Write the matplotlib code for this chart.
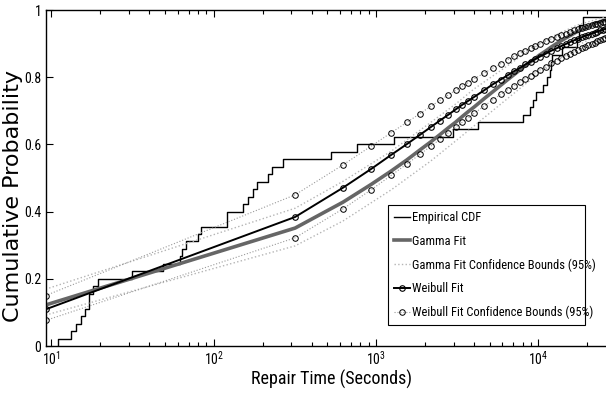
import numpy as np
import matplotlib
matplotlib.use('Agg')
import matplotlib.pyplot as plt
from matplotlib.ticker import FixedLocator, LogLocator, NullFormatter

################## data ##################
# repair times (seconds) at the steps of the empirical CDF
repair_times = [11.0, 13.2, 14.2, 15.2, 16.1, 17.1, 17.1, 18.1, 19.3, 31.3,
                48.5, 62.0, 63.5, 67.5, 80.0, 83.2, 121.3, 121.3, 150.9, 163.4,
                174.7, 184.1, 216.9, 227.8, 268.4, 525.9, 760.3, 1291, 2970, 4269,
                8083, 8890, 9276, 9679, 10690, 11320, 11810, 11980, 12150, 13990,
                17320, 17690, 17690, 18860, 35000]

# points where the fitted cdfs were evaluated
fit_x = [9.2, 317, 625, 933, 1241, 1549, 1857, 2165, 2473, 2781, 3089, 3397, 3705, 4013,
         4629, 5245, 5861, 6477, 7093, 7709, 8325, 8941, 9557, 10173,
         11097, 12021, 12945, 13869, 14793, 15717, 16641, 17565, 18489, 19413, 20337,
         21261, 22185, 23109, 24033, 24957, 25881, 26805, 27729, 28653, 29577, 30501]

gamma_fit = [0.122, 0.351, 0.428, 0.481, 0.521, 0.554, 0.583, 0.607, 0.629, 0.649, 0.666,
             0.683, 0.698, 0.711, 0.736, 0.757, 0.776, 0.793, 0.808, 0.822, 0.835, 0.846,
             0.856, 0.866, 0.878, 0.890, 0.900, 0.909, 0.917, 0.924, 0.931, 0.937, 0.942,
             0.947, 0.951, 0.955, 0.959, 0.962, 0.965, 0.968, 0.970, 0.973, 0.975, 0.977,
             0.979, 0.981]

weibull_fit = [0.109, 0.384, 0.471, 0.527, 0.569, 0.601, 0.628, 0.651, 0.671, 0.688, 0.704,
               0.718, 0.730, 0.741, 0.761, 0.779, 0.793, 0.806, 0.818, 0.828, 0.838, 0.846,
               0.854, 0.861, 0.870, 0.879, 0.886, 0.893, 0.899, 0.905, 0.910, 0.915, 0.919,
               0.923, 0.926, 0.930, 0.933, 0.936, 0.939, 0.941, 0.944, 0.946, 0.948, 0.950,
               0.952, 0.954]
weibull_upper = [0.150, 0.450, 0.539, 0.595, 0.635, 0.666, 0.691, 0.713, 0.731, 0.747, 0.761,
                 0.773, 0.784, 0.795, 0.812, 0.827, 0.840, 0.852, 0.862, 0.871, 0.879, 0.886,
                 0.893, 0.899, 0.907, 0.914, 0.920, 0.926, 0.930, 0.935, 0.939, 0.943, 0.946,
                 0.949, 0.952, 0.954, 0.957, 0.959, 0.961, 0.963, 0.965, 0.966, 0.968, 0.969,
                 0.971, 0.972]
weibull_lower = [0.076, 0.322, 0.408, 0.465, 0.508, 0.542, 0.570, 0.594, 0.615, 0.634, 0.651,
                 0.666, 0.679, 0.692, 0.714, 0.733, 0.749, 0.763, 0.775, 0.786, 0.796, 0.805,
                 0.813, 0.821, 0.831, 0.841, 0.849, 0.857, 0.864, 0.870, 0.876, 0.881, 0.886,
                 0.891, 0.895, 0.899, 0.903, 0.907, 0.910, 0.913, 0.916, 0.919, 0.922, 0.924,
                 0.927, 0.929]

# gamma confidence bounds (dotted, no markers)
gbound_x = [9.2, 317, 625, 1241, 2165, 3089, 4013, 5861, 8325, 12021, 17565, 24033, 30501]
gamma_upper = [0.169, 0.410, 0.490, 0.580, 0.665, 0.720, 0.765, 0.820, 0.872, 0.920, 0.956,
               0.975, 0.987]
gamma_lower = [0.092, 0.298, 0.372, 0.465, 0.550, 0.610, 0.655, 0.720, 0.780, 0.838, 0.895,
               0.930, 0.955]

xticks = [10, 100, 1000, 10000]
xticklabels = ['$10^{1}$', '$10^{2}$', '$10^{3}$', '$10^{4}$']
yticks = [0, 0.2, 0.4, 0.6, 0.8, 1]
yticklabels = ['0', '0.2', '0.4', '0.6', '0.8', '1']

################## plot ##################
narrow = ['Roboto Condensed', 'DejaVu Sans']
plt.rcParams['font.family'] = narrow
plt.rcParams['mathtext.fontset'] = 'custom'
plt.rcParams['mathtext.rm'] = 'Roboto Condensed'
plt.rcParams['mathtext.it'] = 'Roboto Condensed'

fig = plt.figure(figsize=(6.06, 4.03), dpi=100)
# axes run a little past the right edge of the picture (cropped like the original)
ax = fig.add_axes([45.6 / 606, 57 / 403, (617 - 45.6) / 606, 336 / 403])

t = np.sort(repair_times)
n = len(t)
ax.step(np.r_[t[0], t], np.r_[0, np.arange(1, n + 1) / n], where='post', color='k', lw=1.0,
        label='Empirical CDF')
ax.plot(fit_x, gamma_fit, color='#666666', lw=2.6, label='Gamma Fit')
ax.plot(gbound_x, gamma_upper, color='#b5b5b5', lw=1.0, ls=':',
        label='Gamma Fit Confidence Bounds (95%)')
ax.plot(gbound_x, gamma_lower, color='#b5b5b5', lw=1.0, ls=':')
ax.plot(fit_x, weibull_fit, color='k', lw=1.4, marker='o', ms=4, mfc='none', mec='k', mew=0.8,
        label='Weibull Fit')
ax.plot(fit_x, weibull_upper, color='#999999', lw=0.8, ls=':', marker='o', ms=4, mfc='none',
        mec='k', mew=0.7, label='Weibull Fit Confidence Bounds (95%)')
ax.plot(fit_x, weibull_lower, color='#999999', lw=0.8, ls=':', marker='o', ms=4, mfc='none',
        mec='k', mew=0.7)

ax.set_xscale('log')
ax.set_xlim(9.2, 30500)
ax.set_ylim(0, 1)
ax.xaxis.set_major_locator(FixedLocator(xticks))
ax.set_xticklabels(xticklabels)
ax.xaxis.set_minor_locator(LogLocator(base=10, subs=np.arange(2, 10)))
ax.xaxis.set_minor_formatter(NullFormatter())
ax.set_yticks(yticks)
ax.set_yticklabels(yticklabels)
ax.tick_params(which='both', direction='in', top=True, right=True, labelsize=10, width=0.8)
ax.tick_params(which='major', length=5, pad=3)
ax.tick_params(which='minor', length=3)
for s in ax.spines.values():
    s.set_linewidth(1.0)
ax.set_xlabel('Repair Time (Seconds)', fontsize=13, labelpad=1)
ax.set_ylabel('Cumulative Probability', fontsize=16, family='DejaVu Sans')
ax.yaxis.set_label_coords(-0.040, 0.446)

leg = fig.legend(loc='lower left', bbox_to_anchor=(388 / 606, 78 / 403, 197 / 606, 118 / 403),
                 mode='expand', fontsize=9, handlelength=1.3, handletextpad=0.2,
                 labelspacing=0.85, borderpad=0.45, borderaxespad=0, fancybox=False,
                 framealpha=1, edgecolor='k')
leg.get_frame().set_linewidth(0.8)

fig.savefig('out.png', dpi=100)
